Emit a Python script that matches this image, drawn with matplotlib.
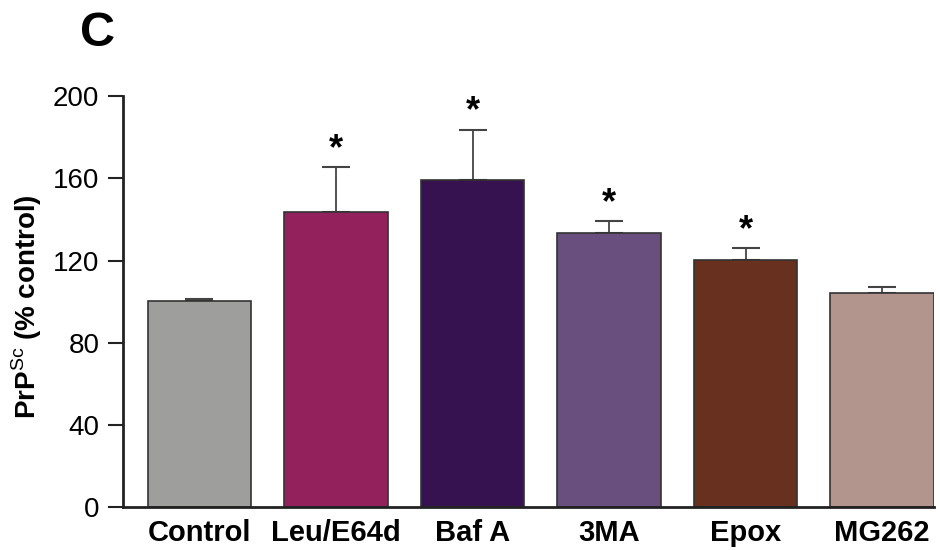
import matplotlib
matplotlib.use("Agg")
import matplotlib.pyplot as plt

plt.rcParams["font.family"] = ["Liberation Sans", "DejaVu Sans"]
plt.rcParams["mathtext.fontset"] = "custom"
plt.rcParams["mathtext.rm"] = "Liberation Sans"
plt.rcParams["mathtext.bf"] = "Liberation Sans:bold"

# PrPSc levels after each treatment, % of control (mean and upper SEM)
treatments = ["Control", "Leu/E64d", "Baf A", "3MA", "Epox", "MG262"]
means = [100.5, 143.8, 159.2, 133.6, 120.5, 104.4]
sems = [0.8, 21.7, 24.5, 5.7, 5.7, 2.6]
significant = [False, True, True, True, True, False]
colors = ["#9e9e9c", "#93215c", "#361350", "#694f7e", "#67301f", "#b2958c"]
yticks = [0, 40, 80, 120, 160, 200]

fig = plt.figure(figsize=(9.4, 5.5), dpi=100)
ax = fig.add_axes([0.1309, 0.0773, 0.8627, 0.7482])

x = list(range(len(treatments)))
ax.bar(x, means, width=0.76, color=colors, edgecolor="#333333", linewidth=1.2, zorder=2)
ax.errorbar(x, means, yerr=[[0] * len(sems), sems], fmt="none", ecolor="#444444",
            elinewidth=1.3, capsize=10, capthick=1.5, zorder=1)

for xi, m, s, sig in zip(x, means, sems, significant):
    if sig:
        ax.annotate("*", (xi, m + s), xytext=(0, 0), textcoords="offset points",
                    ha="center", va="bottom", fontsize=26, fontweight="bold")

ax.set_xlim(-0.56, 5.38)
ax.set_ylim(0, 200)
ax.set_yticks(yticks)
ax.set_xticks(x)
ax.set_xticklabels(treatments, fontsize=21, fontweight="bold")
ax.tick_params(axis="x", length=0, pad=8)
ax.tick_params(axis="y", length=11, width=1.5, pad=6, labelsize=20, color="#222222")

for side in ("top", "right"):
    ax.spines[side].set_visible(False)
for side in ("left", "bottom"):
    ax.spines[side].set_linewidth(2)
    ax.spines[side].set_color("#222222")

ax.set_ylabel(r"PrP$^{\mathrm{Sc}}$ (% control)", fontsize=20, fontweight="bold")
ax.yaxis.set_label_coords(-0.097, 0.488)

fig.text(0.104, 0.94, "C", fontsize=35, fontweight="bold", ha="center", va="center")

fig.savefig("out.png", dpi=100)
